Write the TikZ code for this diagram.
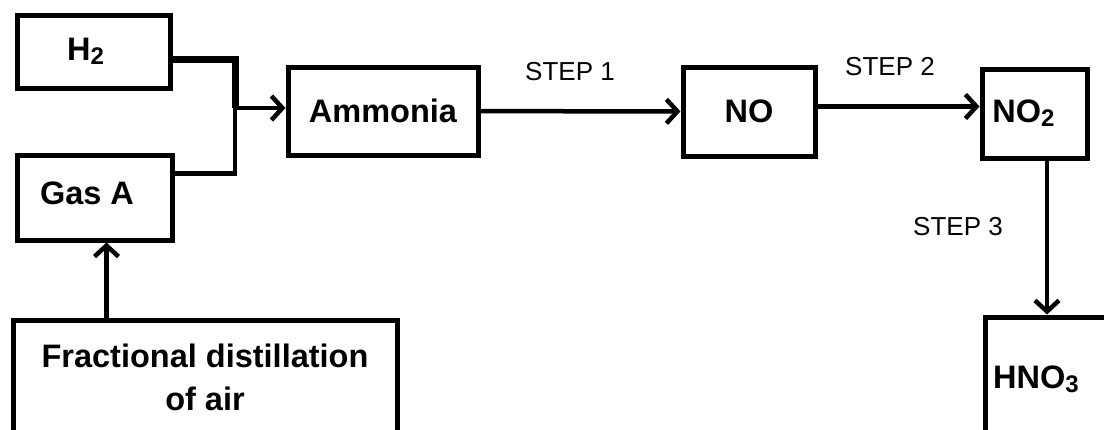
\documentclass[tikz,border=0pt]{standalone}
\usepackage{fontspec}
\setmainfont{Liberation Sans}
\usepackage{tikz}
\usetikzlibrary{arrows.meta, positioning, calc}
\newcommand{\chemsub}[1]{\raisebox{-0.25ex}{\fontsize{24}{24}\selectfont #1}}

\begin{document}
\begin{tikzpicture}[x=1pt,y=-1pt,>={Straight Barb[length=11pt,width=24pt]},
			line width=4.5pt,
			box node/.style={draw,rectangle,line width=5pt,inner sep=0pt,align=center,font=\fontsize{32.5}{43}\selectfont\bfseries},
			step label/.style={font=\fontsize{26}{30}\selectfont}]
			
			\useasboundingbox (0,0) rectangle (1104,429);
			\clip (0,0) rectangle (1104,429);
			
			\node[box node,minimum width=153pt,minimum height=73pt] (h2) at (93.5,51.5) {H\chemsub{2}\hspace{16pt}};
			\node[box node,minimum width=155pt,minimum height=85pt] (gasa) at (94.5,197.5) {\raisebox{8pt}{Gas A}\hspace{15pt}};
			\node[box node,minimum width=384pt,minimum height=114pt] (frac) at (205,377) {Fractional distillation\\ of air};
			\node[box node,minimum width=190pt,minimum height=88pt] (ammonia) at (383,111) {Ammonia};
			\node[box node,minimum width=132pt,minimum height=89pt] (no) at (749,111.5) {NO};
			\node[box node,minimum width=105pt,minimum height=89pt] (no2) at (1034.5,113.5) {NO\chemsub{2}\hspace{22pt}};
			\node[box node,minimum width=124pt,minimum height=124pt] (hno3) at (1047,379) {HNO\chemsub{3}\hspace{22pt}};
			
			\node[step label] (step1) at (570,72) {STEP 1};
			\node[step label] (step2) at (890,67) {STEP 2};
			\node[step label] (step3) at (958,227) {STEP 3};
			
			\coordinate (join) at (235,108);
			
			\draw[line width=7pt] ([yshift=-8pt]h2.east) -| (join);
			\draw ([yshift=24pt]gasa.east) -| (join);
			\draw[->] (join) -- (join -| ammonia.west);
			\draw[->] ([xshift=12pt]gasa.south |- frac.north) -- ([xshift=12pt]gasa.south);
			\draw[->] (ammonia) -- (no);
			\draw[->] ([yshift=5pt]no.east) -- ([yshift=5pt]no.east -| no2.west);
			\draw[->] (hno3.north |- no2.south) -- (hno3.north);
		\end{tikzpicture}
\end{document}
